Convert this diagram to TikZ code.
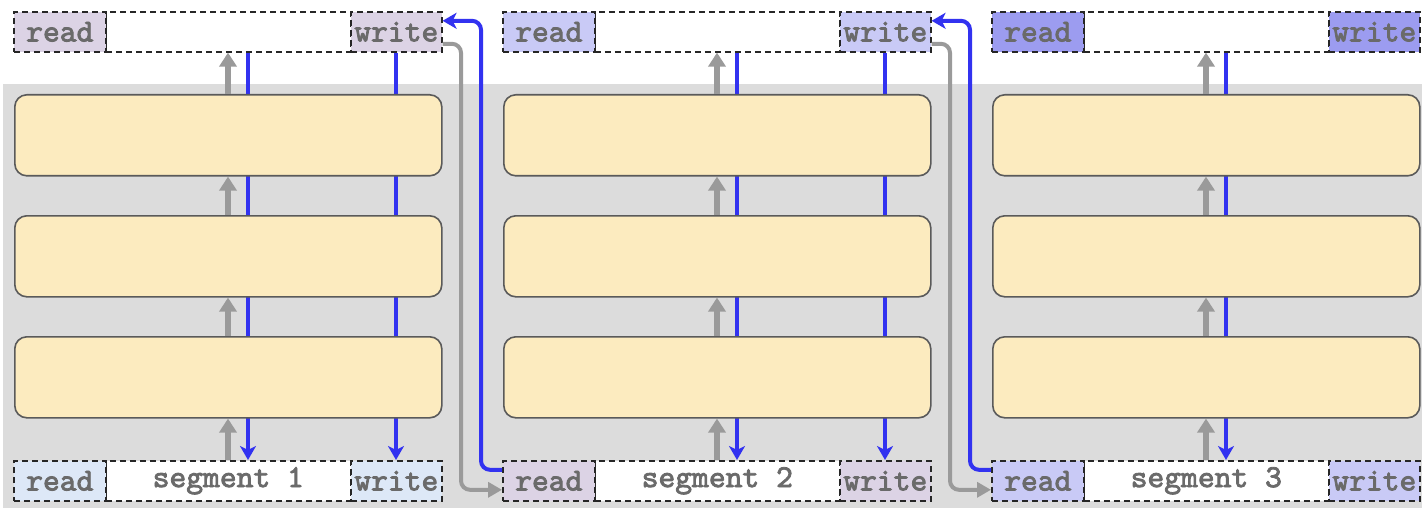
\documentclass[tikz,border=0pt]{standalone}
\usepackage{fontspec}
\newfontfamily\cellfont{lmmono10-regular.otf}[FakeBold=2.5]
\usetikzlibrary{arrows.meta,calc}
\definecolor{bgray}{HTML}{DCDCDC}
\definecolor{memA}{HTML}{DDE8F7}
\definecolor{memB}{HTML}{DCD3E5}
\definecolor{memC}{HTML}{C9CAF6}
\definecolor{memD}{HTML}{9C9CF0}
\definecolor{layerfill}{HTML}{FCEBBF}
\definecolor{layerdraw}{HTML}{5A5A5A}
\definecolor{arrowgray}{HTML}{9A9A9A}
\definecolor{lineblue}{HTML}{3232F0}
\definecolor{txtgray}{HTML}{6A6A6A}
\begin{document}
\begin{tikzpicture}[x=1pt,y=-1pt,
  cell/.style={draw=black!85,line width=1.6pt,dash pattern=on 6pt off 4pt,
    minimum height=40pt,inner sep=0pt,anchor=north west,
    font=\fontsize{32}{34}\selectfont\cellfont,text=txtgray},
  readcell/.style={cell,minimum width=92pt},
  midcell/.style={cell,minimum width=245pt,fill=white},
  writecell/.style={cell,minimum width=91pt},
  layer/.style={draw=layerdraw,fill=layerfill,line width=1.6pt,rounded corners=12pt,
    minimum width=427pt,minimum height=81pt,anchor=north west,inner sep=0pt},
  grayarrow/.style={draw=arrowgray,line width=6pt,-{Triangle[width=17pt,length=14pt]}},
  blueline/.style={draw=lineblue,line width=4pt,-{Stealth[width=16pt,length=14pt,inset=4pt]}},
  grayconn/.style={draw=arrowgray,line width=4pt,rounded corners=9pt,-{Triangle[width=15pt,length=14pt]}},
  blueconn/.style={draw=lineblue,line width=4pt,rounded corners=9pt,-{Stealth[width=16pt,length=14pt,inset=4pt]}}
]
\useasboundingbox (0,0) rectangle (1422,508);
\fill[white] (0,0) rectangle (1422,508);
\fill[bgray] (3,84) rectangle (1422,508);

\foreach \i/\x/\tc/\bc/\lab in {1/13/memB/memA/segment 1,2/502/memC/memB/segment 2,3/991/memD/memC/segment 3}{
  % memory rows
  \node[readcell,fill=\tc] (t\i-r) at (\x,11) {read};
  \node[midcell] (t\i-m) at (\x+92,11) {};
  \node[writecell,fill=\tc] (t\i-w) at (\x+337,11) {write};
  \node[readcell,fill=\bc] (b\i-r) at (\x,460) {read};
  \node[midcell] (b\i-m) at (\x+92,460) {\lab};
  \node[writecell,fill=\bc] (b\i-w) at (\x+337,460) {write};
  \coordinate (g\i) at (\x+215,250);
  \coordinate (bl\i) at (\x+235,250);
  \coordinate (bw\i) at (\x+383,250);
  % blue read-through line (behind layers)
  \draw[blueline] (t\i-m.south -| bl\i) -- (b\i-m.north -| bl\i);
}
% write lines (segments 1 and 2 only)
\foreach \i in {1,2}{
  \draw[blueline] (t\i-w.south -| bw\i) -- (b\i-w.north -| bw\i);
}
\foreach \i/\x in {1/13,2/502,3/991}{
  \node[layer] (L\i-1) at (\x+1,94) {};
  \node[layer] (L\i-2) at (\x+1,215) {};
  \node[layer] (L\i-3) at (\x+1,336) {};
  \draw[grayarrow] (b\i-m.north -| g\i) -- (L\i-3.south -| g\i);
  \draw[grayarrow] (L\i-3.north -| g\i) -- (L\i-2.south -| g\i);
  \draw[grayarrow] (L\i-2.north -| g\i) -- (L\i-1.south -| g\i);
  \draw[grayarrow] (L\i-1.north -| g\i) -- (t\i-m.south -| g\i);
}
% redraw cells on top so borders are crisp
\foreach \i/\x/\tc/\bc/\lab in {1/13/memB/memA/segment 1,2/502/memC/memB/segment 2,3/991/memD/memC/segment 3}{
  \node[readcell,fill=\tc] at (\x,11) {read};
  \node[writecell,fill=\tc] at (\x+337,11) {write};
  \node[readcell,fill=\bc] at (\x,460) {read};
  \node[writecell,fill=\bc] at (\x+337,460) {write};
}
% connectors between segments
\foreach \i/\j/\gx/\bx in {1/2/461/481,2/3/950/970}{
  \coordinate (gc\i) at (\gx,250);
  \coordinate (bc\i) at (\bx,250);
  \draw[grayconn] ($(t\i-w.east)+(0,12)$) -| (gc\i) |- ($(b\j-r.west)+(0,9)$);
  \draw[blueconn] ($(b\j-r.west)+(0,-11)$) -| (bc\i) |- ($(t\i-w.east)+(0,-11)$);
}
\end{tikzpicture}
\end{document}
